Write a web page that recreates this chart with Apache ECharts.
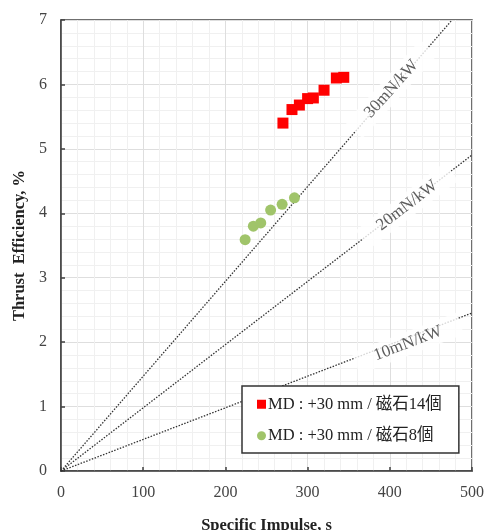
<!DOCTYPE html>
<html>
<head>
<meta charset="utf-8">
<script src="https://cdn.jsdelivr.net/npm/echarts@6/dist/echarts.min.js"></script>
<style>
html,body{margin:0;padding:0;background:#fff;}
#c{width:485px;height:530px;}
</style>
</head>
<body>
<div id="c"></div>
<script>
// Data
var xTicks = [0, 100, 200, 300, 400, 500];
var yTicks = [0, 1, 2, 3, 4, 5, 6, 7];
var seriesNames = ['MD : +30 mm / 磁石14個', 'MD : +30 mm / 磁石8個'];
var redX = [270, 281, 290, 300, 307, 320, 335, 344];
var redY = [5.40, 5.61, 5.68, 5.78, 5.79, 5.91, 6.10, 6.11];
var greenX = [224, 234, 243, 255, 269, 284];
var greenY = [3.59, 3.80, 3.85, 4.05, 4.14, 4.24];
// constant thrust-to-power reference lines (endpoints)
var line30 = [[0, 0], [475.7, 7]];
var line20 = [[0, 0], [500, 4.905]];
var line10 = [[0, 0], [500, 2.4525]];
var lineLabels = ['30mN/kW', '20mN/kW', '10mN/kW'];
var labelPos = [[402, 5.93], [421, 4.12], [422, 1.98]];
var labelRot = [48, 37.5, 21];

function zip(xs, ys) { return xs.map(function (x, i) { return [x, ys[i]]; }); }

var chart = echarts.init(document.getElementById('c'), null, {renderer: 'canvas'});
var FONT = '"Liberation Serif", "Times New Roman", "Noto Sans CJK JP", serif';

var refLine = function (data) {
  return {
    type: 'line', data: data, symbol: 'none', silent: true, z: 2,
    lineStyle: {type: [1.5, 1.5], color: '#333', width: 1.3},
    legendHoverLink: false
  };
};

var option = {
  animation: false,
  grid: {left: 61, right: 13, top: 20, bottom: 59, show: true, borderColor: '#404040', borderWidth: 1.5, backgroundColor: 'transparent', containLabel: false, outerBoundsMode: 'none'},
  xAxis: {
    type: 'value', min: xTicks[0], max: xTicks[xTicks.length - 1], interval: 100,
    name: 'Specific Impulse, s', nameLocation: 'middle', nameGap: 46,
    nameTextStyle: {fontFamily: FONT, fontWeight: 'bold', fontSize: 16.5, color: '#222'},
    axisLine: {show: true, onZero: false, lineStyle: {color: '#404040', width: 1.5}},
    axisTick: {show: true, inside: true, length: 4, lineStyle: {color: '#404040', width: 1.5}},
    axisLabel: {fontFamily: FONT, fontSize: 16, color: '#444', margin: 14},
    splitLine: {show: true, lineStyle: {color: '#dedede', width: 1}},
    minorTick: {show: false, splitNumber: 5},
    minorSplitLine: {show: true, lineStyle: {color: '#f0f0f0', width: 1}}
  },
  yAxis: {
    type: 'value', min: yTicks[0], max: yTicks[yTicks.length - 1], interval: 1,
    name: 'Thrust  Efficiency, %', nameLocation: 'middle', nameGap: 32, nameRotate: 90,
    nameTextStyle: {fontFamily: FONT, fontWeight: 'bold', fontSize: 16.5, color: '#222'},
    axisLine: {show: true, onZero: false, lineStyle: {color: '#404040', width: 1.5}},
    axisTick: {show: true, inside: true, length: 4, lineStyle: {color: '#404040', width: 1.5}},
    axisLabel: {fontFamily: FONT, fontSize: 16, color: '#444', margin: 14},
    splitLine: {show: true, lineStyle: {color: '#dedede', width: 1}},
    minorTick: {show: false, splitNumber: 5},
    minorSplitLine: {show: true, lineStyle: {color: '#f0f0f0', width: 1}}
  },
  legend: {
    data: [{name: seriesNames[0], icon: 'rect'}, {name: seriesNames[1], icon: 'circle'}],
    orient: 'vertical', left: 242, top: 386,
    backgroundColor: '#fff', borderColor: '#333', borderWidth: 1.5, borderRadius: 0,
    padding: [10, 17, 9, 15], itemGap: 15, itemWidth: 9, itemHeight: 9,
    textStyle: {fontFamily: FONT, fontSize: 16.5, color: '#222', padding: [0, 0, 0, -3]},
    selectedMode: false
  },
  series: [
    refLine(line30), refLine(line20), refLine(line10),
    {
      type: 'scatter', silent: true, z: 3, symbolSize: 0,
      data: labelPos.map(function (p, i) {
        return {
          value: p,
          label: {
            show: true, position: 'inside', formatter: lineLabels[i], rotate: labelRot[i],
            fontFamily: FONT, fontSize: 17, color: '#333',
            backgroundColor: '#fff', padding: [3, 20]
          }
        };
      })
    },
    {
      name: seriesNames[0], type: 'scatter', symbol: 'rect', symbolSize: 11, z: 5,
      itemStyle: {color: '#ff0000', opacity: 1}, data: zip(redX, redY)
    },
    {
      name: seriesNames[1], type: 'scatter', symbol: 'circle', symbolSize: 11, z: 5,
      itemStyle: {color: '#a0c46a', opacity: 1}, data: zip(greenX, greenY)
    }
  ]
};
chart.setOption(option);
</script>
</body>
</html>
